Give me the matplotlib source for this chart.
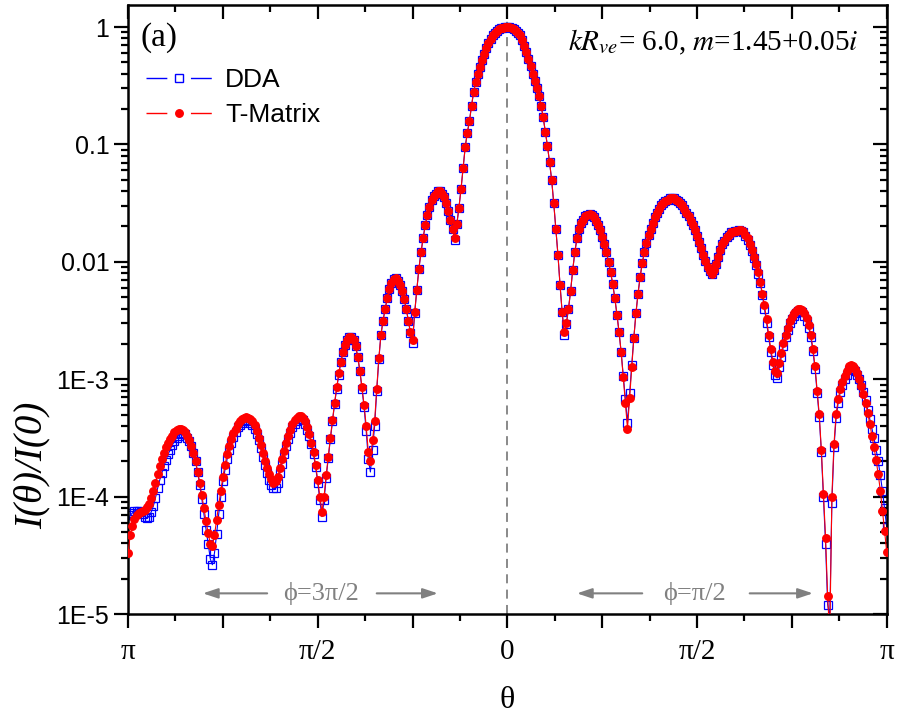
import numpy as np
import matplotlib
matplotlib.use("Agg")
import matplotlib.pyplot as plt
from matplotlib.lines import Line2D
from matplotlib.ticker import FixedLocator, LogLocator, NullFormatter

plt.rcParams['mathtext.fontset'] = 'stix'

# scattering angle, 1 degree steps; negative side is phi=3pi/2, positive side phi=pi/2
theta = np.arange(-180, 181, 1)

# log10 of I(theta)/I(0) (10 values per line)
tmatrix_log = [
    -4.48, -4.33, -4.25, -4.19, -4.16, -4.14, -4.13, -4.12, -4.11, -4.09,
    -4.06, -4.01, -3.95, -3.88, -3.81, -3.74, -3.68, -3.63, -3.58, -3.54,
    -3.51, -3.48, -3.45, -3.43, -3.42, -3.42, -3.43, -3.45, -3.48, -3.52,
    -3.57, -3.63, -3.70, -3.79, -3.88, -3.99, -4.10, -4.21, -4.31, -4.40,
    -4.42, -4.33, -4.20, -4.07, -3.95, -3.83, -3.73, -3.64, -3.57, -3.51,
    -3.46, -3.42, -3.38, -3.36, -3.34, -3.33, -3.32, -3.33, -3.34, -3.36,
    -3.39, -3.44, -3.50, -3.56, -3.63, -3.70, -3.76, -3.81, -3.85, -3.88,
    -3.87, -3.83, -3.76, -3.68, -3.61, -3.54, -3.48, -3.43, -3.38, -3.35,
    -3.33, -3.31, -3.31, -3.33, -3.36, -3.41, -3.47, -3.54, -3.62, -3.73,
    -3.86, -4.00, -4.13, -4.00, -3.82, -3.66, -3.50, -3.35, -3.20, -3.07,
    -2.95, -2.85, -2.77, -2.71, -2.67, -2.64, -2.64, -2.67, -2.72, -2.81,
    -2.93, -3.07, -3.22, -3.40, -3.62, -3.70, -3.52, -3.36, -3.08, -2.82,
    -2.62, -2.50, -2.40, -2.31, -2.23, -2.18, -2.15, -2.14, -2.16, -2.20,
    -2.25, -2.32, -2.40, -2.50, -2.60, -2.67, -2.43, -2.24, -2.06, -1.92,
    -1.80, -1.69, -1.60, -1.53, -1.47, -1.44, -1.42, -1.40, -1.40, -1.42,
    -1.45, -1.50, -1.57, -1.64, -1.72, -1.80, -1.68, -1.54, -1.38, -1.20,
    -1.02, -0.90, -0.80, -0.67, -0.55, -0.47, -0.40, -0.34, -0.28, -0.23,
    -0.18, -0.14, -0.10, -0.07, -0.05, -0.03, -0.02, -0.01, -0.005, 0.0,
    0.0, 0.0, -0.01, -0.02, -0.03, -0.05, -0.07, -0.11, -0.16, -0.21,
    -0.27, -0.33, -0.40, -0.46, -0.52, -0.59, -0.67, -0.77, -0.89, -1.01,
    -1.15, -1.30, -1.50, -1.72, -1.94, -2.20, -2.43, -2.60, -2.52, -2.40,
    -2.25, -2.07, -1.92, -1.80, -1.72, -1.67, -1.64, -1.61, -1.60, -1.59,
    -1.60, -1.62, -1.65, -1.69, -1.73, -1.79, -1.85, -1.92, -2.00, -2.09,
    -2.19, -2.31, -2.45, -2.60, -2.77, -2.98, -3.20, -3.42, -3.16, -2.90,
    -2.65, -2.44, -2.27, -2.13, -2.01, -1.92, -1.84, -1.77, -1.72, -1.67,
    -1.62, -1.58, -1.55, -1.52, -1.50, -1.48, -1.47, -1.46, -1.46, -1.46,
    -1.47, -1.48, -1.50, -1.52, -1.55, -1.58, -1.61, -1.65, -1.69, -1.73,
    -1.78, -1.83, -1.88, -1.94, -1.99, -2.04, -2.08, -2.10, -2.07, -2.02,
    -1.96, -1.90, -1.85, -1.82, -1.79, -1.77, -1.75, -1.745, -1.74, -1.735,
    -1.73, -1.73, -1.74, -1.77, -1.80, -1.85, -1.90, -1.96, -2.02, -2.09,
    -2.17, -2.27, -2.37, -2.49, -2.62, -2.74, -2.85, -2.93, -2.95, -2.86,
    -2.78, -2.69, -2.62, -2.56, -2.50, -2.47, -2.44, -2.42, -2.40, -2.40,
    -2.41, -2.44, -2.48, -2.54, -2.62, -2.74, -2.89, -3.10, -3.30, -3.60,
    -3.98, -4.35, -4.85, -5.20, -4.00, -3.55, -3.30, -3.17, -3.08, -3.02,
    -2.97, -2.93, -2.89, -2.88, -2.89, -2.91, -2.95, -3.00, -3.06, -3.13,
    -3.20, -3.29, -3.38, -3.48, -3.58, -3.69, -3.81, -3.95, -4.12, -4.29,
    -4.47]

dda_log = [
    -4.22, -4.16, -4.14, -4.12, -4.12, -4.12, -4.13, -4.15, -4.17, -4.18,
    -4.17, -4.13, -4.08, -4.01, -3.93, -3.86, -3.80, -3.74, -3.69, -3.64,
    -3.60, -3.56, -3.53, -3.50, -3.48, -3.47, -3.46, -3.47, -3.50, -3.53,
    -3.57, -3.63, -3.70, -3.79, -3.90, -4.02, -4.15, -4.28, -4.40, -4.53,
    -4.58, -4.48, -4.32, -4.15, -4.00, -3.87, -3.77, -3.68, -3.60, -3.54,
    -3.49, -3.45, -3.41, -3.39, -3.37, -3.36, -3.35, -3.36, -3.37, -3.39,
    -3.42, -3.47, -3.52, -3.59, -3.66, -3.73, -3.80, -3.86, -3.90, -3.93,
    -3.93, -3.88, -3.80, -3.72, -3.64, -3.57, -3.51, -3.46, -3.41, -3.38,
    -3.36, -3.34, -3.34, -3.35, -3.38, -3.43, -3.48, -3.55, -3.64, -3.75,
    -3.88, -4.03, -4.17, -4.03, -3.84, -3.67, -3.51, -3.36, -3.21, -3.08,
    -2.96, -2.85, -2.77, -2.71, -2.67, -2.64, -2.64, -2.67, -2.72, -2.81,
    -2.93, -3.08, -3.24, -3.44, -3.68, -3.79, -3.60, -3.40, -3.10, -2.83,
    -2.62, -2.50, -2.40, -2.31, -2.23, -2.18, -2.15, -2.14, -2.16, -2.20,
    -2.25, -2.32, -2.40, -2.50, -2.61, -2.69, -2.44, -2.24, -2.06, -1.92,
    -1.80, -1.69, -1.60, -1.53, -1.47, -1.44, -1.42, -1.40, -1.40, -1.42,
    -1.45, -1.50, -1.57, -1.64, -1.72, -1.81, -1.68, -1.54, -1.38, -1.20,
    -1.02, -0.90, -0.80, -0.67, -0.55, -0.47, -0.40, -0.34, -0.28, -0.23,
    -0.18, -0.14, -0.10, -0.07, -0.05, -0.03, -0.02, -0.01, -0.005, 0.0,
    0.0, 0.0, -0.01, -0.02, -0.03, -0.05, -0.07, -0.11, -0.16, -0.21,
    -0.27, -0.33, -0.40, -0.46, -0.52, -0.59, -0.67, -0.77, -0.89, -1.01,
    -1.15, -1.30, -1.50, -1.72, -1.94, -2.20, -2.43, -2.62, -2.53, -2.40,
    -2.25, -2.07, -1.92, -1.80, -1.72, -1.67, -1.64, -1.61, -1.60, -1.59,
    -1.60, -1.62, -1.65, -1.69, -1.73, -1.79, -1.85, -1.92, -2.00, -2.09,
    -2.19, -2.31, -2.45, -2.60, -2.77, -2.97, -3.17, -3.37, -3.12, -2.88,
    -2.65, -2.44, -2.27, -2.13, -2.01, -1.92, -1.84, -1.77, -1.72, -1.67,
    -1.62, -1.58, -1.55, -1.52, -1.50, -1.48, -1.47, -1.46, -1.46, -1.46,
    -1.47, -1.48, -1.50, -1.52, -1.55, -1.58, -1.61, -1.65, -1.69, -1.73,
    -1.78, -1.83, -1.88, -1.94, -1.99, -2.04, -2.08, -2.10, -2.07, -2.02,
    -1.96, -1.90, -1.85, -1.82, -1.79, -1.77, -1.75, -1.745, -1.74, -1.735,
    -1.73, -1.74, -1.75, -1.78, -1.81, -1.86, -1.91, -1.97, -2.03, -2.10,
    -2.18, -2.28, -2.40, -2.52, -2.64, -2.77, -2.88, -2.96, -2.99, -2.90,
    -2.81, -2.72, -2.64, -2.58, -2.52, -2.49, -2.46, -2.44, -2.42, -2.42,
    -2.43, -2.46, -2.50, -2.56, -2.64, -2.76, -2.91, -3.12, -3.32, -3.62,
    -4.00, -4.40, -4.92, -5.03, -4.05, -3.58, -3.33, -3.20, -3.11, -3.05,
    -3.00, -2.96, -2.92, -2.91, -2.91, -2.93, -2.96, -3.00, -3.05, -3.11,
    -3.18, -3.26, -3.34, -3.42, -3.50, -3.60, -3.70, -3.82, -3.95, -4.10,
    -4.26]

xtick_pos = [-180, -135, -90, -45, 0, 45, 90, 135, 180]
xtick_lab = ['π', '', 'π/2', '', '0', '', 'π/2', '', 'π']
ytick_pos = [1e-5, 1e-4, 1e-3, 1e-2, 1e-1, 1]
ytick_lab = ['1E-5', '1E-4', '1E-3', '0.01', '0.1', '1']

assert len(theta) == len(tmatrix_log) == len(dda_log)
dda = 10 ** np.array(dda_log)
tmat = 10 ** np.array(tmatrix_log)

serif = ['Liberation Serif', 'DejaVu Serif']
sans = ['Liberation Sans', 'DejaVu Sans']

fig = plt.figure(figsize=(9.02, 7.19), dpi=100)
ax = fig.add_axes([0.142, 0.146, 0.841, 0.847])

ax.axvline(0, color='gray', ls=(0, (5, 3.5)), lw=1.3, zorder=1)

ax.plot(theta, dda, color='blue', lw=0.8, marker='s', ms=6.3, mfc='none',
        mec='blue', mew=0.9, zorder=2)
ax.plot(theta, tmat, color='red', lw=0.8, marker='o', ms=5.4, mfc='red',
        mec='red', zorder=3)

ax.set_yscale('log')
ax.set_xlim(-180, 180)
ax.set_ylim(1e-5, 1.54)

ax.xaxis.set_major_locator(FixedLocator(xtick_pos))
ax.xaxis.set_minor_locator(FixedLocator(np.arange(-180, 181, 22.5)))
ax.set_xticklabels(xtick_lab, fontfamily=serif, fontsize=21)
ax.set_yticks(ytick_pos)
ax.set_yticklabels(ytick_lab, fontfamily=sans, fontsize=18)
ax.yaxis.set_minor_locator(LogLocator(base=10, subs=np.arange(2, 10), numticks=20))
ax.yaxis.set_minor_formatter(NullFormatter())

for s in ax.spines.values():
    s.set_linewidth(1.8)
ax.tick_params(which='both', width=1.6, top=True, right=True)
ax.tick_params(which='major', length=10)
ax.tick_params(which='minor', length=5)
ax.tick_params(axis='x', which='both', direction='out', pad=8)
ax.tick_params(axis='y', which='both', direction='out')
# top / right ticks point inward
for t in ax.xaxis.get_major_ticks() + ax.xaxis.get_minor_ticks():
    t.tick2line.set_marker(3)
for t in ax.yaxis.get_major_ticks() + ax.yaxis.get_minor_ticks():
    t.tick2line.set_marker(0)

ax.set_xlabel('θ', fontfamily=serif, fontsize=23)
ax.xaxis.set_label_coords(0.5, -0.118)
ax.set_ylabel('I(θ)/I(0)', fontfamily=serif, fontstyle='italic', fontsize=28)
ax.yaxis.set_label_coords(-0.102, 0.245)

ax.text(0.016, 0.972, '(a)', transform=ax.transAxes, fontfamily=serif,
        fontsize=24, va='top', ha='left')
ax.text(0.962, 0.962, r'$kR_{ve}$= 6.0, $m$=1.45+0.05$i$', transform=ax.transAxes,
        fontfamily=serif, fontsize=21, va='top', ha='right')

# legend: line broken around the marker, as in the original
h_dda = Line2D([], [], color='blue', lw=1.0, ls=(0, (15, 17, 15, 100)), marker='s',
               ms=6.3, mfc='none', mec='blue', mew=1.0)
h_tm = Line2D([], [], color='red', lw=1.0, ls=(0, (15, 17, 15, 100)), marker='o',
              ms=5.4, mfc='red', mec='red')
ax.legend([h_dda, h_tm], ['DDA', 'T-Matrix'], loc='upper left',
          bbox_to_anchor=(-0.008, 0.935), frameon=False, handlelength=2.55,
          numpoints=1, labelspacing=0.42, prop={'family': sans, 'size': 19},
          handletextpad=0.45)

# phi region annotations
y_ann = 1.5e-5
arrow = dict(arrowstyle='-|>,head_length=0.9,head_width=0.3', color='gray', lw=1.5,
             shrinkA=0, shrinkB=0)
ax.annotate('', xy=(-144.5, y_ann), xytext=(-114, y_ann), arrowprops=arrow)
ax.annotate('', xy=(-33, y_ann), xytext=(-62, y_ann), arrowprops=arrow)
ax.text(-88.5, y_ann, 'ϕ=3π/2', color='gray', fontfamily=serif, fontsize=19,
        ha='center', va='center')
ax.annotate('', xy=(33, y_ann), xytext=(64, y_ann), arrowprops=arrow)
ax.annotate('', xy=(145, y_ann), xytext=(115, y_ann), arrowprops=arrow)
ax.text(89, y_ann, 'ϕ=π/2', color='gray', fontfamily=serif, fontsize=19,
        ha='center', va='center')

fig.savefig('out.png', dpi=100)
